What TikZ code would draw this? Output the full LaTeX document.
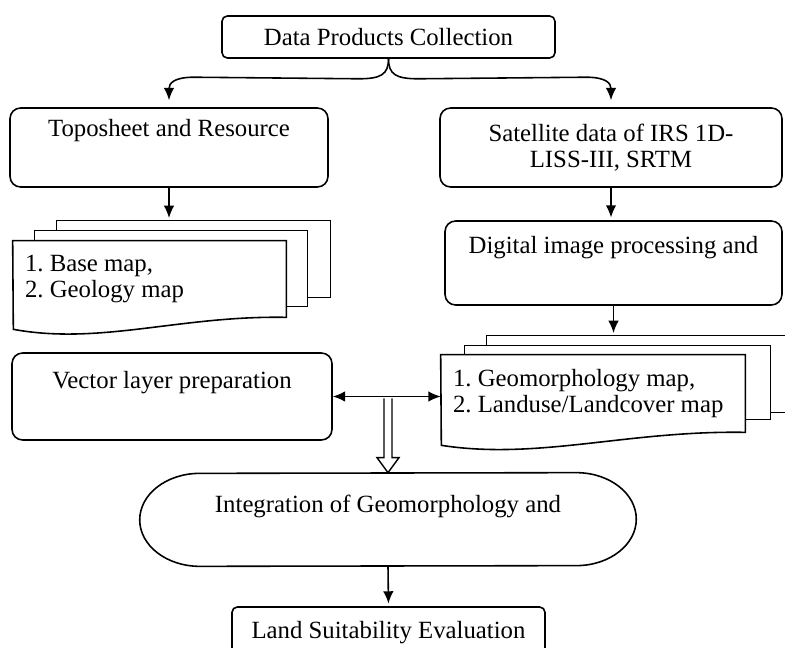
\documentclass[tikz,border=0pt]{standalone}
\usepackage{fontspec}
\setmainfont{Liberation Serif}
\usetikzlibrary{arrows.meta,positioning,calc,backgrounds}
\frenchspacing

\begin{document}
\begin{tikzpicture}[x=0.02cm, y=-0.02cm,
    box/.style={draw, rounded corners=6pt, line width=0.9pt, align=center, inner sep=0pt, font=\fontsize{14.1}{14.8}\selectfont},
    sheet/.style={inner xsep=0.24cm, inner ysep=0pt, align=flush left, font=\fontsize{14.1}{14.8}\selectfont},
    paper/.style={draw, fill=white, line width=0.9pt},
    arr/.style={-{Latex[length=7pt,width=6pt]}, line width=0.9pt, shorten >=1.5pt},
    darr/.style={{Latex[length=7pt,width=6pt]}-{Latex[length=7pt,width=6pt]}, line width=0.9pt}
]
\useasboundingbox (0,0) rectangle (785,648);

\node[box, rounded corners=3pt, minimum width=6.66cm, minimum height=0.84cm] (collect) at (388.5,37) {Data Products Collection};
\node[box, minimum width=6.36cm, minimum height=1.58cm] (topo) at (169,147.5) {Toposheet and Resource\\[7pt]~};
\node[box, minimum width=6.84cm, minimum height=1.58cm] (sat) at (611,147.5) {Satellite data of IRS 1D-\\LISS-III, SRTM};
\node[box, minimum width=6.74cm, minimum height=1.68cm] (digit) at (613.5,263) {Digital image processing and\\[5.4pt]~};
\node[sheet, text width=4.98cm, minimum height=1.52cm] (base) at (149.5,279) {1. Base map,\\2. Geology map};
\node[sheet, text width=5.6cm, minimum height=1.54cm] (geo) at (593,393.5) {1. Geomorphology map,\\2. Landuse/Landcover map};
\node[box, minimum width=6.4cm, minimum height=1.74cm] (vector) at (172,396.5) {Vector layer preparation\\[4pt]~};
\node[align=center, inner sep=0pt, minimum width=9.92cm, minimum height=1.86cm, font=\fontsize{14.1}{14.8}\selectfont] (integ) at (388,519.5) {Integration of Geomorphology and\\[2.6pt]~};
\node[box, rounded corners=3pt, minimum width=6.26cm, minimum height=1.04cm] (land) at (388.5,633) {Land Suitability Evaluation};

% stacked map sheets
\begin{scope}[on background layer]
\draw[line width=0.9pt] ($(base.north west)+(44,-10)$) -- ($(base.north west)+(44,-20)$) -- ($(base.north east)+(44,-20)$) -- ($(base.north east)+(44,57)$) -- ($(base.north east)+(21,57)$);
\draw[line width=0.9pt] ($(base.north west)+(22,0)$) -- ($(base.north west)+(22,-10)$) -- ($(base.north east)+(21,-10)$) -- ($(base.north east)+(21,66)$) -- ($(base.north east)+(0,66)$);
\draw[paper] (base.north west) -- (base.north east) -- (base.south east) .. controls ($(base.south east)+(-106,-2)$) and ($(base.south east)+(-186,28)$) .. ($(base.south east)+(-273,12)$) -- cycle;

\draw[line width=0.9pt] ($(geo.north west)+(46,-9)$) -- ($(geo.north west)+(46,-19)$) -- ($(geo.north east)+(50,-19)$) -- ($(geo.north east)+(50,58)$) -- ($(geo.north east)+(25,58)$);
\draw[line width=0.9pt] ($(geo.north west)+(24,0)$) -- ($(geo.north west)+(24,-9)$) -- ($(geo.north east)+(25,-9)$) -- ($(geo.north east)+(25,65)$) -- ($(geo.north east)+(0,65)$);
\draw[paper] (geo.north west) -- (geo.north east) -- (geo.south east) .. controls ($(geo.south east)+(-118,-2)$) and ($(geo.south east)+(-207,28)$) .. ($(geo.south east)+(-304,13)$) -- cycle;
\end{scope}

% terminator outline
\draw[line width=0.9pt] ($(integ.north east)+(-60,0)$) arc[start angle=90, end angle=-90, x radius=1.2cm, y radius=0.93cm] -- ($(integ.south west)+(60,0)$) arc[start angle=270, end angle=90, x radius=1.2cm, y radius=0.93cm] -- cycle;

\coordinate (baseback) at ($(base.north)+(0,-20)$);
\coordinate (geoback) at ($(geo.north)+(0,-19)$);
\coordinate (junc) at (integ.north |- vector.east);

\draw[arr, shorten >=4pt] (collect.south) .. controls ($(collect.south)+(0,16)$) and ($(collect.south)+(-8,20)$) .. ($(collect.south)+(-30,20)$) -- ($(topo.north)+(25,-30)$) .. controls ($(topo.north)+(5,-30)$) and ($(topo.north)+(0,-24)$) .. (topo.north);
\draw[arr, shorten >=4pt] (collect.south) .. controls ($(collect.south)+(0,16)$) and ($(collect.south)+(8,20)$) .. ($(collect.south)+(30,20)$) -- ($(sat.north)+(-25,-30)$) .. controls ($(sat.north)+(-5,-30)$) and ($(sat.north)+(0,-24)$) .. (sat.north);
\draw[arr] (topo.south) -- (topo.south |- baseback);
\draw[arr] (sat.south) -- (sat.south |- digit.north);
\draw[arr] (digit.south) -- (digit.south |- geoback);
\draw[darr] (vector.east) -- (vector.east -| geo.west);
\draw[line width=0.8pt, fill=white] ($(junc)+(-4,2)$) -- ($(integ.north)+(-4,-15)$) -- ($(integ.north)+(-11,-15)$) -- (integ.north) -- ($(integ.north)+(11,-15)$) -- ($(integ.north)+(4,-15)$) -- ($(junc)+(4,2)$);
\draw[arr] (integ.south) -- (land.north);
\end{tikzpicture}
\end{document}
